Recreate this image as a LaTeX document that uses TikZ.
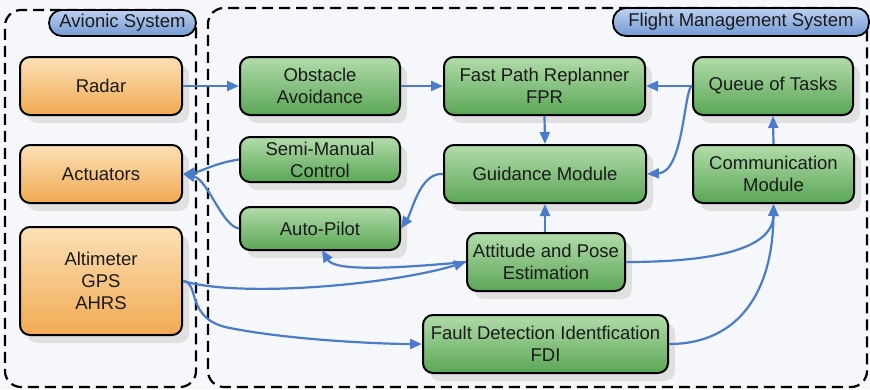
\documentclass[tikz,border=0pt]{standalone}
\usepackage{fontspec}
\setmainfont{Liberation Sans}
\usetikzlibrary{arrows.meta,shadows}
\definecolor{bgc}{HTML}{F5F7FB}
\definecolor{orT}{HTML}{FCE0B6}
\definecolor{orB}{HTML}{F1AA52}
\definecolor{grT}{HTML}{B2DCAA}
\definecolor{grB}{HTML}{5AA656}
\definecolor{blT}{HTML}{BCD1F0}
\definecolor{blB}{HTML}{7399D4}
\definecolor{arrc}{HTML}{4A7CC9}
\definecolor{txt}{HTML}{1A1A1A}
\tikzset{
  box/.style={draw=black, line width=2pt, rounded corners=10pt, inner sep=0pt,
    align=center, text=txt, font=\fontsize{18.5}{22}\selectfont,
    drop shadow={shadow xshift=7pt, shadow yshift=-8pt, fill=black!12, opacity=1}},
  obox/.style={box, top color=orT, bottom color=orB},
  gbox/.style={box, top color=grT, bottom color=grB},
  pill/.style={draw=black, line width=1.8pt, rounded corners=13pt, inner sep=0pt,
    top color=blT, bottom color=blB, text=txt, font=\fontsize{18.5}{22}\selectfont},
  region/.style={draw=black, line width=2.2pt, dash pattern=on 11pt off 6pt,
    rounded corners=16pt, inner sep=0pt},
  arr/.style={draw=arrc, line width=2.2pt, -{Triangle[length=12pt,width=10pt]}},
}
\begin{document}
\begin{tikzpicture}[x=1pt,y=-1pt]
\useasboundingbox (0,0) rectangle (870,389);
\fill[bgc] (0,0) rectangle (870,389);
% regions
\node[region, minimum width=191pt, minimum height=377pt] (avi) at (100.5,198.5) {};
\node[region, minimum width=659pt, minimum height=379pt] (fms) at (537.5,197.5) {};
\node[pill, minimum width=147pt, minimum height=26pt] (avil) at (122.5,23) {Avionic System};
\node[pill, minimum width=256pt, minimum height=28pt] (fmsl) at (741,22) {Flight Management System};
% orange boxes
\node[obox, minimum width=162pt, minimum height=58pt] (radar) at (101,86) {Radar};
\node[obox, minimum width=162pt, minimum height=58pt] (act) at (101,174) {Actuators};
\node[obox, minimum width=162pt, minimum height=108pt] (alt) at (101,281) {Altimeter\\GPS\\AHRS};
% green boxes
\node[gbox, minimum width=160pt, minimum height=58pt] (obst) at (320,86) {Obstacle\\Avoidance};
\node[gbox, minimum width=201pt, minimum height=58pt] (fpr) at (544.5,86) {Fast Path Replanner\\FPR};
\node[gbox, minimum width=160pt, minimum height=58pt] (queue) at (773,86) {Queue of Tasks};
\node[gbox, minimum width=160pt, minimum height=45pt] (semi) at (320,159.5) {Semi-Manual\\Control};
\node[gbox, minimum width=160pt, minimum height=43pt] (auto) at (320,228.5) {Auto-Pilot};
\node[gbox, minimum width=202pt, minimum height=58pt] (guid) at (545,174) {Guidance Module};
\node[gbox, minimum width=161pt, minimum height=58pt] (comm) at (773.5,174) {Communication\\Module};
\node[gbox, minimum width=158pt, minimum height=58pt] (att) at (546,262) {Attitude and Pose\\Estimation};
\node[gbox, minimum width=245pt, minimum height=58pt] (fdi) at (545.5,344) {Fault Detection Identfication\\FDI};
% connectors
\draw[arr] (radar.east) -- (obst.west);
\draw[arr] (obst.east) -- (fpr.west);
\draw[arr] (queue.west) -- (fpr.east);
\draw[arr] (queue.west) .. controls (684,88) and (684,172) .. (guid.east);
\draw[arr] (fpr.south) -- (guid.north);
\draw[arr] (comm.north) -- (queue.south);
\draw[arr] (att.north -| guid.south) -- (guid.south);
\draw[arr] (guid.west) .. controls (420,172) and (412,212) .. (auto.east);
\draw[arr] (semi.west) .. controls (215,163) and (200,172) .. (act.east);
\draw[arr] (auto.west) .. controls (222,226) and (208,180) .. (act.east);
\coordinate (apb) at (322,250);
\draw[arr] (att.west) .. controls (400,268) and (335,272) .. (apb);
\draw[arr] (alt.east) .. controls (240,298) and (390,285) .. (att.west);
\coordinate (fdibend) at (230,328);
\draw[arr] (alt.east) .. controls (200,282) and (185,320) .. (fdibend) .. controls (290,340) and (380,344) .. (fdi.west);
\draw[arr] (att.east) .. controls (710,262) and (773,250) .. (comm.south);
\draw[arr] (fdi.east) .. controls (740,344) and (773,290) .. (comm.south);
\end{tikzpicture}
\end{document}
